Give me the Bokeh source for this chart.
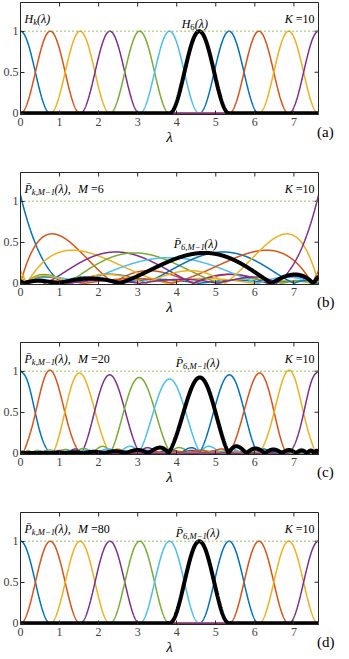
import numpy as np
from bokeh.plotting import figure
from bokeh.layouts import column, row
from bokeh.models import Label, FixedTicker, Range1d, Div
from bokeh.embed import file_html
from bokeh.resources import INLINE

# ---- values ----
K = 10                      # number of bands (k = 0..K)
lambda_max = 7.63           # right end of the spectrum axis
M_values = [None, 6, 20, 80]  # (a) exact kernels, (b)-(d) polynomial order M
highlight_k = 6
panel_tags = ["(a)", "(b)", "(c)", "(d)"]
x_ticks = [0, 1, 2, 3, 4, 5, 6, 7]
y_ticks = [0, 0.5, 1]
colors = ["#0072BD", "#D95319", "#EDB120", "#7E2F8E", "#77AC30", "#4DBEEE", "#A2142F"]

FONT = "Liberation Serif"
AX = "#262626"
Y0, Y1 = -0.015, 1.35
FIG_W, FIG_H, TAG_W = 320, 160, 13
BL, BR, BT, BB = 18, 2, 2, 46

centers = np.arange(K + 1) * lambda_max / K
delta = lambda_max / K
lam = np.linspace(0, lambda_max, 1600)


def H(k, x):
    d = (x - centers[k]) / delta
    return np.where(np.abs(d) < 1, np.cos(np.pi * d / 2) ** 2, 0.0)


def cheb(k, M, x):
    N = 4000
    theta = np.pi * (np.arange(N) + 0.5) / N
    t = np.cos(theta)
    f = H(k, (t + 1) * lambda_max / 2)
    j = np.arange(M)
    c = 2.0 / N * (np.cos(np.outer(j, theta)) @ f)
    c[0] /= 2
    return np.polynomial.chebyshev.chebval(2 * x / lambda_max - 1, c)


# approximate Times advance widths (em)
W = {"H": 0.72, "P": 0.61, "k": 0.44, "M": 0.83, "K": 0.67, ",": 0.25, "\u2212": 0.6,
     "1": 0.5, "(": 0.33, ")": 0.33, "\u03bb": 0.55, " ": 0.25, "\u00a0": 0.25, "=": 0.56,
     "0": 0.5, "2": 0.5, "6": 0.5, "8": 0.5, "\u0304": 0.0}


def width(s, size):
    return sum(W.get(ch, 0.5) for ch in s) * size


def add_math(p, x, y, pieces, align="left", size=12):
    # pieces: (text, italic, sub)
    widths = [width(t, size * 0.72 if sub else size) for t, it, sub in pieces]
    total = sum(widths)
    off = {"left": 0, "right": -total, "center": -total / 2}[align]
    xo = x[1] + off
    for (t, it, sub), w in zip(pieces, widths):
        p.add_layout(Label(x=x[0], y=y, x_offset=xo, y_offset=-3 if sub else 0, text=t,
                           text_font=FONT, text_font_size=f"{size*0.72 if sub else size:.1f}px",
                           text_font_style="italic" if it else "normal",
                           text_color="black", text_baseline="alphabetic", text_align="left"))
        xo += w


def make_panel(i, M):
    p = figure(width=FIG_W, height=FIG_H, x_range=Range1d(0, lambda_max), y_range=Range1d(Y0, Y1),
               output_backend="svg", toolbar_location=None,
               min_border_left=BL, min_border_right=BR, min_border_top=BT, min_border_bottom=BB)
    p.grid.visible = False
    p.outline_line_color = AX
    p.outline_line_width = 1
    for ax in (p.xaxis[0], p.yaxis[0]):
        ax.major_tick_in = 4
        ax.major_tick_out = 0
        ax.minor_tick_line_color = None
        ax.axis_line_color = AX
        ax.major_tick_line_color = AX
        ax.major_label_text_font = FONT
        ax.major_label_text_font_size = "12px"
        ax.major_label_text_color = "#404040"
    p.xaxis.ticker = FixedTicker(ticks=x_ticks)
    p.yaxis.ticker = FixedTicker(ticks=y_ticks)
    p.yaxis.major_label_overrides = {0: "0", 0.5: "0.5", 1: "1"}
    p.xaxis.major_label_standoff = 3
    p.yaxis.major_label_standoff = 2
    p.xaxis.axis_label = "\u03bb"
    p.xaxis.axis_label_text_font = FONT
    p.xaxis.axis_label_text_font_style = "italic"
    p.xaxis.axis_label_text_font_size = "15px"
    p.xaxis.axis_label_standoff = 0
    p.xaxis.axis_label_text_color = "black"

    # inward ticks on the top and right edges of the box
    fw = FIG_W - 20 - BR
    fh = FIG_H - BT - BB
    ty = 4 * (Y1 - Y0) / fh
    tx = 4 * lambda_max / fw
    p.segment(x0=x_ticks, y0=[Y1] * len(x_ticks), x1=x_ticks, y1=[Y1 - ty] * len(x_ticks),
              line_color=AX, line_width=1)
    p.segment(x0=[lambda_max] * len(y_ticks), y0=y_ticks, x1=[lambda_max - tx] * len(y_ticks),
              y1=y_ticks, line_color=AX, line_width=1)

    curves = []
    for k in range(K + 1):
        y = H(k, lam) if M is None else cheb(k, M, lam)
        curves.append(y)
        p.line(lam, np.abs(y), line_color=colors[k % 7], line_width=1.5)
    p.line(lam, np.abs(curves[highlight_k]), line_color="black", line_width=4)
    p.line(lam, np.sum(curves, axis=0), line_color="#77AC30", line_width=1.6, line_dash="1 3")

    # texts
    ytop = 1.155
    if M is None:
        add_math(p, (0, 4), ytop, [("H", True, False), ("k", True, True), ("(\u03bb)", True, False)])
        add_math(p, (4.48, 0), 1.09, [("H", True, False), ("6", False, True), ("(\u03bb)", True, False)],
                 align="center")
    else:
        add_math(p, (0, 4), ytop, [("P\u0304", True, False), ("k,M\u22121", True, True),
                                   ("(\u03bb),\u00a0\u00a0", True, False), ("M", True, False),
                                   (f"\u00a0={M}", False, False)])
        lx, ly = {6: (4.5, 0.48), 20: (4.55, 1.1), 80: (4.55, 1.1)}[M]
        add_math(p, (lx, 0), ly, [("P\u0304", True, False), ("6,M\u22121", True, True),
                                  ("(\u03bb)", True, False)], align="center")
    add_math(p, (lambda_max, -4), ytop, [("K", True, False), ("\u00a0=10", False, False)], align="right")

    tag = Div(text=panel_tags[i], width=TAG_W, height=FIG_H,
              styles={"font-family": FONT, "font-size": "15px", "color": "black",
                      "padding-top": f"{FIG_H - BB + 6}px", "box-sizing": "border-box",
                      "line-height": "1", "margin-left": "-3px", "white-space": "nowrap"})
    return row(p, tag, spacing=0)


panels = [make_panel(i, M) for i, M in enumerate(M_values)]
layout = column(*panels, spacing=0)
open("out.html", "w").write(file_html(layout, INLINE))
